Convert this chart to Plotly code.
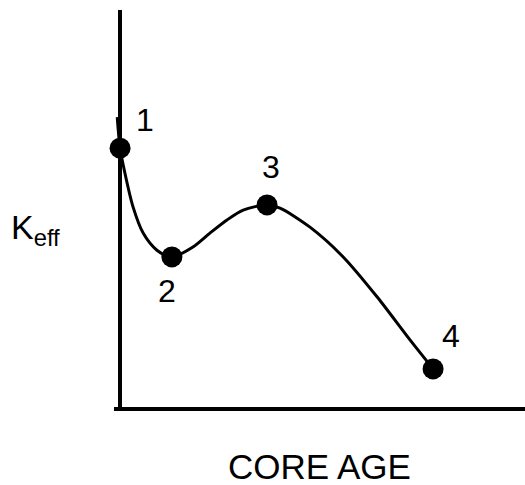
import plotly.graph_objects as go

# curve traced through the sketch (core age vs k-eff, arbitrary units)
curve_age = [-0.7, 0.0, 1.2, 3.2, 5.7, 9.1, 12.8, 18.0, 22.2, 26.4, 30.4, 36.3,
             39.5, 46.9, 55.1, 63.5, 71.6, 77.3]
curve_keff = [73.0, 65.2, 58.9, 50.4, 43.8, 39.5, 37.8, 40.3, 43.8, 47.1, 49.6, 50.9,
              50.1, 45.3, 37.8, 27.7, 16.9, 9.6]

# the four marked states
point_age = [0.0, 12.8, 36.3, 77.3]
point_keff = [65.2, 37.8, 50.9, 9.6]
point_labels = ['1', '2', '3', '4']

# where each number sits relative to its dot
label_dx = [6.2, -1.1, 1.0, 4.45]
label_dy = [7.1, -8.7, 9.55, 8.3]

FONT = 'Liberation Sans, Arial, sans-serif'

fig = go.Figure()
fig.add_trace(go.Scatter(x=curve_age, y=curve_keff, mode='lines',
                         line=dict(color='black', width=3, shape='spline', smoothing=0.8),
                         hoverinfo='none', cliponaxis=False))
fig.add_trace(go.Scatter(x=point_age, y=point_keff, mode='markers',
                         marker=dict(color='black', size=21),
                         hoverinfo='none', cliponaxis=False))

for px, py, lab, dx, dy in zip(point_age, point_keff, point_labels, label_dx, label_dy):
    fig.add_annotation(x=px + dx, y=py + dy, text=lab, showarrow=False,
                       xanchor='center', yanchor='middle',
                       font=dict(family=FONT, size=32, color='black'))

fig.add_annotation(xref='paper', yref='paper', x=-0.192, y=0.448, text='K<sub>eff</sub>',
                   showarrow=False, xanchor='center', yanchor='middle',
                   font=dict(family=FONT, size=34, color='black'))
fig.add_annotation(xref='paper', yref='paper', x=0.501, y=-0.151, text='CORE AGE',
                   showarrow=False, xanchor='center', yanchor='middle',
                   font=dict(family=FONT, size=35, color='black'))

fig.update_layout(width=525, height=485, showlegend=False,
                  margin=dict(l=114, r=0, t=10, b=78),
                  plot_bgcolor='white', paper_bgcolor='white')
# vertical axis is the x zero line, so the start of the curve can poke out left of it
fig.update_xaxes(range=[-1.5, 100], showgrid=False, showticklabels=False, ticks='',
                 zeroline=True, zerolinecolor='black', zerolinewidth=4,
                 showline=True, linecolor='black', linewidth=4)
fig.update_yaxes(range=[0, 100], showgrid=False, zeroline=False, showticklabels=False,
                 ticks='', showline=False)

# drop the page's default 8px body margin so the figure fills the window
fig.write_html('out.html', config={'displayModeBar': False},
               post_script="document.body.style.margin='0';document.body.style.overflow='hidden';")
